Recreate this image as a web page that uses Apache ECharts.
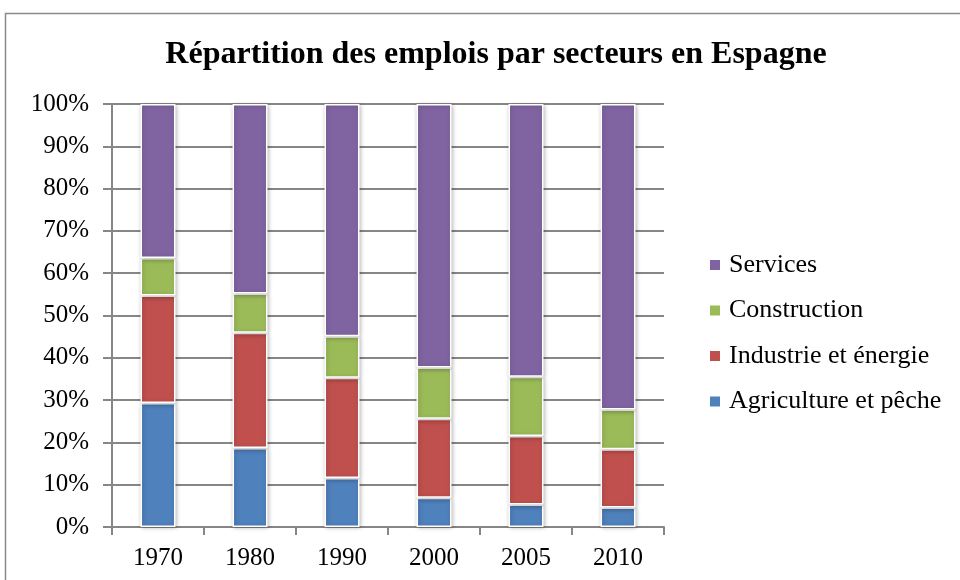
<!DOCTYPE html>
<html>
<head>
<meta charset="utf-8">
<script src="https://cdn.jsdelivr.net/npm/echarts@6/dist/echarts.min.js"></script>
<style>
  html, body { margin: 0; padding: 0; background: #fff; }
  #main { width: 960px; height: 580px; }
</style>
</head>
<body>
<div id="main"></div>
<script>
// années
const years = ['1970', '1980', '1990', '2000', '2005', '2010'];
// parts en %
const agriculture = [29.3, 18.7, 11.6, 6.9, 5.3, 4.6];
const industrie = [25.4, 27.2, 23.7, 18.7, 16.2, 13.8];
const construction = [8.9, 9.3, 9.8, 12.1, 14.0, 9.4];
const services = [36.4, 44.8, 54.9, 62.3, 64.5, 72.2];
const yTicks = [0, 10, 20, 30, 40, 50, 60, 70, 80, 90, 100];

const serif = '"Liberation Serif", "DejaVu Serif", serif';

const chart = echarts.init(document.getElementById('main'));

function bar(name, data, color) {
	return {
		name: name,
		type: 'bar',
		stack: 'total',
		data: data,
		barWidth: '38%',
		itemStyle: {
			color: color,
			borderColor: '#fff',
			borderWidth: 1.5,
			shadowColor: 'rgba(0,0,0,0.25)',
			shadowBlur: 4,
			shadowOffsetX: 1,
			shadowOffsetY: 1
		}
	};
}

chart.setOption({
	animation: false,
	title: {
		text: 'Répartition des emplois par secteurs en Espagne',
		left: 491,
		top: 34,
		textAlign: 'center',
		textStyle: { fontFamily: serif, fontSize: 32, fontWeight: 'bold', color: '#000' }
	},
	graphic: [{
		type: 'rect',
		shape: { x: 5.5, y: 13.5, width: 1000, height: 700 },
		style: { fill: 'none', stroke: '#8a8a8a', lineWidth: 1.5 },
		silent: true
	}],
	legend: {
		orient: 'vertical',
		left: 703,
		top: 247,
		itemWidth: 12,
		itemHeight: 12,
		itemGap: 19.5,
		icon: 'rect',
		data: ['Services', 'Construction', 'Industrie et énergie', 'Agriculture et pêche'],
		textStyle: { fontFamily: serif, fontSize: 26, lineHeight: 26, color: '#000', padding: [0, 0, 0, 3] }
	},
	grid: { left: 112, right: 296, top: 104, bottom: 53 },
	xAxis: {
		type: 'category',
		data: years,
		axisLine: { lineStyle: { color: '#868686', width: 2 } },
		axisTick: { show: true, length: 8, alignWithLabel: false, lineStyle: { color: '#868686', width: 2 } },
		axisLabel: { fontFamily: serif, fontSize: 25, color: '#000', margin: 19 }
	},
	yAxis: {
		type: 'value',
		min: yTicks[0],
		max: yTicks[yTicks.length - 1],
		interval: 10,
		axisLine: { show: true, lineStyle: { color: '#868686', width: 2 } },
		axisTick: { show: true, length: 9, lineStyle: { color: '#868686', width: 2 } },
		axisLabel: { formatter: '{value}%', fontFamily: serif, fontSize: 25, color: '#000', margin: 23 },
		splitLine: { lineStyle: { color: '#868686', width: 2 } }
	},
	series: [
		bar('Agriculture et pêche', agriculture, '#4F81BD'),
		bar('Industrie et énergie', industrie, '#C0504D'),
		bar('Construction', construction, '#9BBB59'),
		bar('Services', services, '#8064A2')
	]
});
</script>
</body>
</html>
